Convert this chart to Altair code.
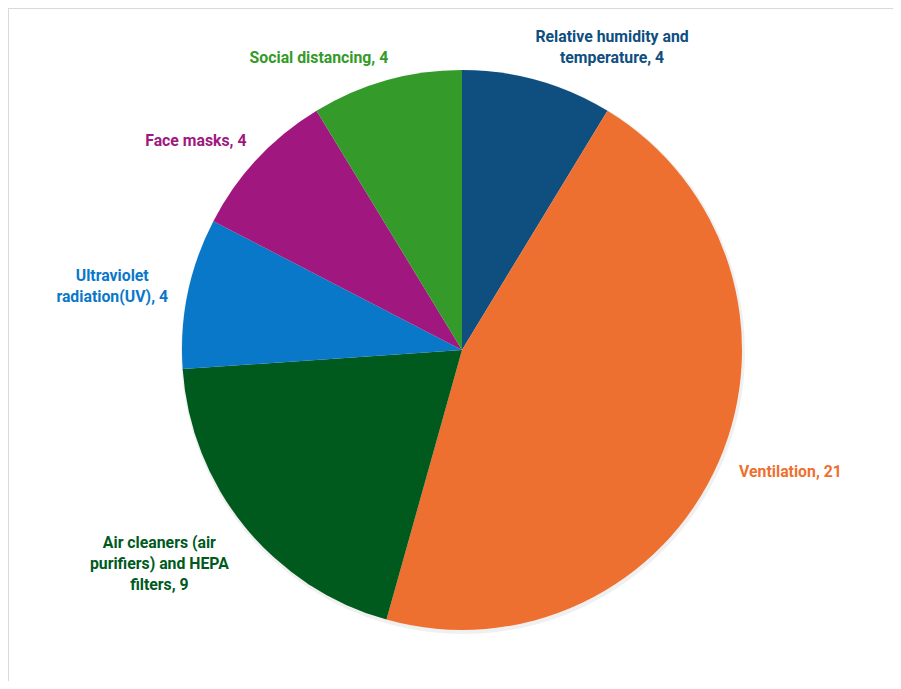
import altair as alt
import pandas as pd

categories = [
    "Relative humidity and temperature",
    "Ventilation",
    "Air cleaners (air purifiers) and HEPA filters",
    "Ultraviolet radiation(UV)",
    "Face masks",
    "Social distancing",
]
values = [4, 21, 9, 4, 4, 4]
labels = [
    "Relative humidity and\ntemperature, 4",
    "Ventilation, 21",
    "Air cleaners (air\npurifiers) and HEPA\nfilters, 9",
    "Ultraviolet\nradiation(UV), 4",
    "Face masks, 4",
    "Social distancing, 4",
]
colors = ["#0e4f80", "#ee7030", "#005a1e", "#0a78c8", "#a0187f", "#349a2a"]

# label placement nudges (pixels) relative to the default radial position
label_dx = [57, 12, -35, -12, -14, -50]
label_dy = [19, -15, -25, -4, 26, 40]

df = pd.DataFrame({
    "category": categories,
    "value": values,
    "label": labels,
    "idx": list(range(len(categories))),
})

W, H = 885, 673
CX, CY = 454, 342

color = alt.Color("category:N", scale=alt.Scale(domain=categories, range=colors), legend=None)

base = alt.Chart(df)

border = alt.Chart(pd.DataFrame({"a": [0]})).mark_rect(
    fill=None, stroke="#d9d9d9", strokeWidth=1
).encode(x=alt.value(0.5), x2=alt.value(W + 20), y=alt.value(0.5), y2=alt.value(H + 20))

shadow = base.mark_arc(x=CX + 1, y=CY + 2, outerRadius=282, color="#000000", opacity=0.06).encode(
    theta=alt.Theta("value:Q", stack=True),
    order=alt.Order("idx:Q"),
)

pie = base.mark_arc(x=CX, y=CY, outerRadius=280).encode(
    theta=alt.Theta("value:Q", stack=True),
    color=color,
    order=alt.Order("idx:Q"),
)

text_layers = []
for i in range(len(categories)):
    t = base.mark_text(
        x=CX, y=CY, radius=345, font="Roboto", fontSize=15.8,
        fontWeight="bold", lineBreak="\n", lineHeight=21, align="center",
        baseline="middle", dx=label_dx[i], dy=label_dy[i]
    ).encode(
        theta=alt.Theta("value:Q", stack=True),
        text="label:N",
        color=color,
        order=alt.Order("idx:Q"),
        opacity=alt.condition(alt.datum.idx == i, alt.value(1), alt.value(0)),
    )
    text_layers.append(t)

chart = alt.layer(border, shadow, pie, *text_layers).properties(
    width=W, height=H, autosize=alt.AutoSizeParams(type="none"), padding=0
).configure_view(stroke=None).configure(background="white")

chart.save("out.html", embed_options={"renderer": "svg", "actions": False})
